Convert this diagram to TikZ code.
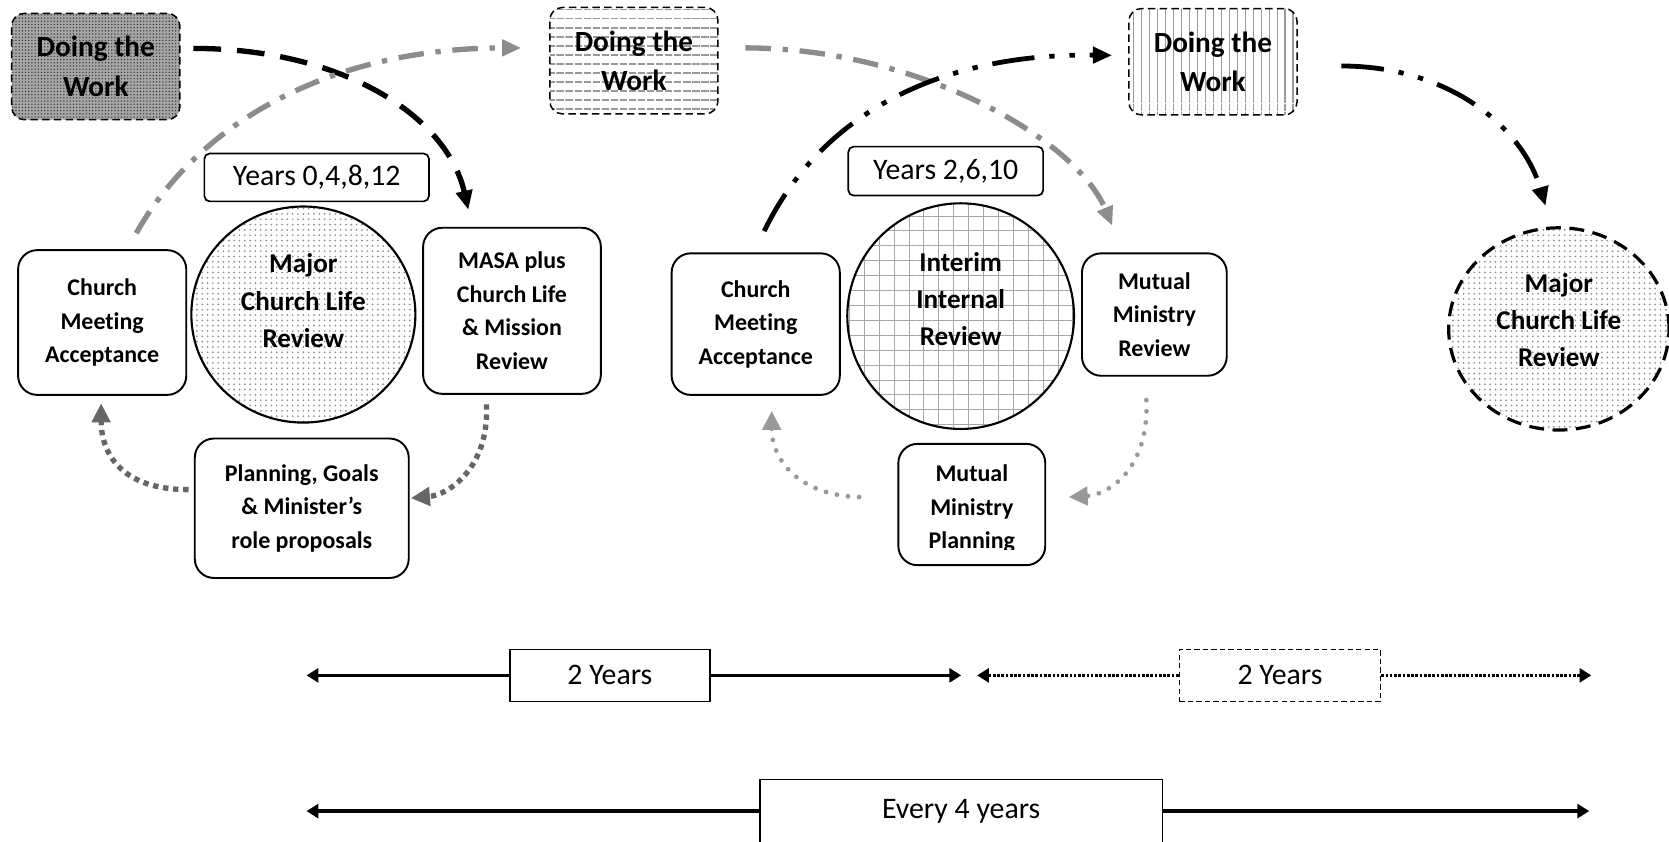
\documentclass[tikz,border=0pt]{standalone}
\usepackage{fontspec}
\setmainfont{Carlito}[Ligatures=NoCommon]
\usetikzlibrary{arrows.meta,positioning,shapes.geometric,patterns.meta}

\begin{document}
\begin{tikzpicture}[
    x=1pt, y=1pt,
    dowork/.style={rectangle, draw, line width=1.4pt, dash pattern=on 7pt off 4pt, rounded corners=12pt, minimum width=158pt, minimum height=100pt, align=center, font=\fontsize{27.5}{37}\selectfont\bfseries},
    rbox/.style={rectangle, draw, line width=1.8pt, rounded corners=18pt, fill=white, align=center, font=\fontsize{22.5}{31.5}\selectfont\bfseries},
    yrbox/.style={rectangle, draw, line width=1.6pt, rounded corners=5pt, fill=white, font=\fontsize{28}{30}\selectfont},
    rev/.style={ellipse, draw, line width=2pt, inner sep=0pt},
    revtxt/.style={align=center, font=\fontsize{25.5}{35}\selectfont\bfseries},
    tbox/.style={rectangle, draw, line width=1.4pt, fill=white, font=\fontsize{28}{30}\selectfont},
    blkdash/.style={line width=5pt, dash pattern=on 26pt off 15pt, -{Triangle[length=18pt,width=15pt]}},
    grydashdot/.style={draw=black!45, line width=5pt, dash pattern=on 24pt off 11pt on 5pt off 11pt, -{Triangle[length=18pt,width=15pt]}},
    blkdashdots/.style={line width=4.5pt, dash pattern=on 40pt off 14pt on 5pt off 14pt on 5pt off 14pt, -{Triangle[length=18pt,width=15pt]}},
    sqdots/.style={draw=black!60, line width=5pt, dash pattern=on 5pt off 4.5pt, -{Triangle[length=18pt,width=17pt]}},
    rddots/.style={draw=black!40, line width=4.5pt, line cap=round, dash pattern=on 0pt off 10.5pt, -{Triangle[length=18pt,width=17pt]}},
    tline/.style={line width=3pt, -{Triangle[length=11pt,width=13pt]}},
    tdots/.style={line width=3.5pt, dash pattern=on 2.5pt off 1.5pt, -{Triangle[length=11pt,width=13pt]}}
]
    \fill [white] (0,0) rectangle (1568,-791);
    \useasboundingbox (0,0) rectangle (1568,-791);

    % doing the work boxes
    \node [dowork, preaction={fill=black!35}, pattern={Dots[distance=3pt, radius=0.75pt]}, pattern color=black!75] (dwA) at (90,-62.5) {Doing the\\Work};
    \node [dowork, pattern={Lines[angle=0, distance=8.5pt, line width=1.6pt]}, pattern color=black!40] (dwB) at (595.5,-57) {Doing the\\Work};
    \node [dowork, pattern={Lines[angle=90, distance=7.5pt, line width=1.5pt]}, pattern color=black!40] (dwC) at (1139.5,-58) {Doing the\\Work};

    % first cycle
    \node [rev, minimum width=210.5pt, minimum height=203pt, pattern={Dots[distance=5pt, radius=0.9pt]}, pattern color=black!45] (revA) at (285,-295.5) {};
    \node [revtxt] (revAtxt) at ([yshift=13]revA.center) {Major\\Church Life\\Review};
    \node [yrbox, minimum width=211pt, minimum height=45pt, above=3pt of revA, xshift=12.5pt] (yrsA) {Years 0,4,8,12};
    \node [rbox, minimum width=158pt, minimum height=136pt] (cmaA) at (96,-303) {Church\\Meeting\\Acceptance};
    \node [rbox, minimum width=167pt, minimum height=156pt] (masa) at (481,-292) {MASA plus\\Church Life\\\& Mission\\Review};
    \node [rbox, minimum width=201pt, minimum height=131pt] (plan) at (283.5,-477.5) {Planning, Goals\\\& Minister’s\\role proposals};

    % second cycle
    \node [rev, minimum width=213pt, minimum height=212pt, pattern={Hatch[distance=14pt, line width=0.9pt]}, pattern color=black!35] (revB) at (902.5,-297) {};
    \node [revtxt] (revBtxt) at ([yshift=16]revB.center) {Interim\\Internal\\Review};
    \node [yrbox, minimum width=183pt, minimum height=46pt, above=6pt of revB, xshift=-14pt] (yrsB) {Years 2,6,10};
    \node [rbox, minimum width=158pt, minimum height=133pt] (cmaB) at (710,-304.5) {Church\\Meeting\\Acceptance};
    \node [rbox, minimum width=136pt, minimum height=115pt] (mmr) at (1084.5,-295.5) {Mutual\\Ministry\\Review};
    \node [rbox, minimum width=138pt, minimum height=114pt] (mmp) at (913,-474) {};
    \begin{scope}
        \clip ([xshift=3pt,yshift=16pt]mmp.south west) rectangle (mmp.north east);
        \node [rbox, draw=none, fill=none] (mmptxt) at ([yshift=-4pt]mmp.center) {Mutual\\Ministry\\Planning};
    \end{scope}

    % next major review
    \node [rev, line width=3pt, dash pattern=on 14pt off 8pt, minimum width=207pt, minimum height=190pt, pattern={Dots[distance=5pt, radius=0.9pt]}, pattern color=black!45] (revC) at (1464.5,-309) {};
    \node [revtxt] (revCtxt) at ([yshift=8.5]revC.center) {Major\\Church Life\\Review};

    % connectors
    \draw [blkdash] ([xshift=12,yshift=17]dwA.east) .. controls +(140,0) and +(-20,88) .. ([xshift=-41,yshift=16]masa.north);
    \draw [grydashdot] ([xshift=32,yshift=15]cmaA.north) .. controls +(62,110) and +(-170,0) .. ([xshift=-26,yshift=12]dwB.west);
    \draw [grydashdot] ([xshift=25,yshift=12]dwB.east) .. controls +(160,0) and +(-35,83) .. ([xshift=-39.5,yshift=25]mmr.north);
    \draw [blkdashdots] ([xshift=8,yshift=20]cmaB.north) .. controls +(52,108) and +(-165,2) .. ([xshift=-15,yshift=6]dwC.west);
    \draw [blkdashdots] ([xshift=41,yshift=-4]dwC.east) .. controls +(100,0) and +(-22,75) .. ([xshift=-12.5,yshift=19]revC.north);
    \draw [sqdots] ([xshift=-24,yshift=-9]masa.south) .. controls +(3,-60) and +(35,3) .. ([xshift=1,yshift=9.5]plan.east);
    \draw [sqdots] ([xshift=-5,yshift=17.5]plan.west) .. controls +(-68,0) and +(0,-42) .. ([xshift=-1,yshift=-7]cmaA.south);
    \draw [rddots] ([xshift=-7.5,yshift=-22]mmr.south) .. controls +(3,-65) and +(37,2) .. ([xshift=21,yshift=7]mmp.east);
    \draw [rddots] ([xshift=-36,yshift=7]mmp.west) .. controls +(-58,2) and +(0,-45) .. ([xshift=15,yshift=-14]cmaB.south);

    % time lines
    \coordinate (aL) at (288,-634.5);
    \coordinate (aR) at (903,-634.5);
    \coordinate (bL) at (918,-634.5);
    \coordinate (bR) at (1495,-634.5);
    \coordinate (cL) at (288,-762);
    \coordinate (cR) at (1493,-762);
    \node [tbox, minimum width=188pt, minimum height=49pt] (twoA) at (573,-634.5) {2 Years};
    \node [tbox, dash pattern=on 5pt off 3pt, minimum width=189pt, minimum height=49pt] (twoB) at (1202.5,-634.5) {2 Years};
    \node [tbox, minimum width=378pt, minimum height=59pt] (four) at (903,-762) {Every 4 years};
    \draw [tline] (twoA.west) -- (aL);
    \draw [tline] (twoA.east) -- (aR);
    \draw [tdots] (twoB.west) -- (bL);
    \draw [tdots] (twoB.east) -- (bR);
    \draw [tline] (four.west) -- (cL);
    \draw [tline] (four.east) -- (cR);
\end{tikzpicture}
\end{document}
